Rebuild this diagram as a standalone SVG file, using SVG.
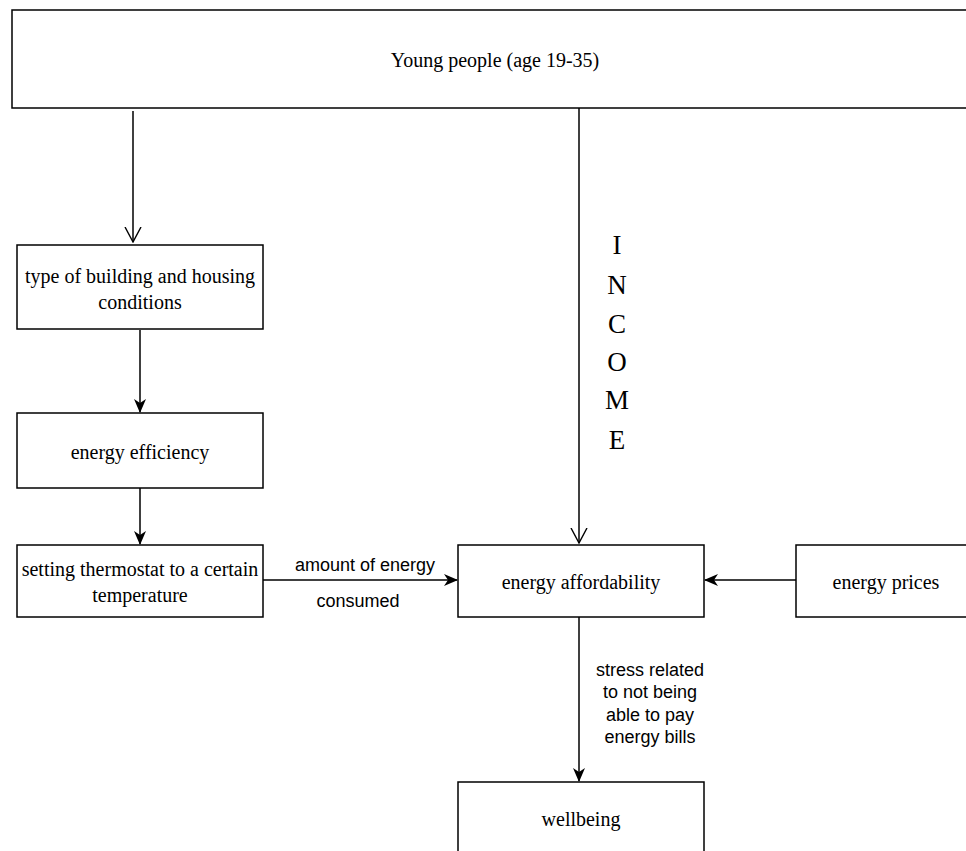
<svg xmlns="http://www.w3.org/2000/svg" width="966" height="851" viewBox="0 0 966 851">
<defs>
<marker id="open" viewBox="0 0 16 18" refX="15" refY="9" markerWidth="16" markerHeight="18" markerUnits="userSpaceOnUse" orient="auto">
<path d="M0 1 L15 9 L0 17" fill="none" stroke="#000" stroke-width="1.4"/>
</marker>
<marker id="filled" viewBox="0 0 14 12" refX="13" refY="6" markerWidth="14" markerHeight="12" markerUnits="userSpaceOnUse" orient="auto">
<path d="M0 0 L14 6 L0 12 L4 6 Z" fill="#000"/>
</marker>
</defs>
<style>
.box{fill:#fff;stroke:#000;stroke-width:1.5}
.t{font-family:"Liberation Serif","Times New Roman",serif;font-size:20px;fill:#000;text-anchor:middle}
.s{font-family:"Liberation Sans",Arial,sans-serif;font-size:18px;fill:#000;text-anchor:middle}
.inc{font-family:"Liberation Serif","Times New Roman",serif;font-size:27px;fill:#000;text-anchor:middle}
.c{fill:none;stroke:#000;stroke-width:1.5}
</style>
<rect width="966" height="851" fill="#fff"/>
<g id="connectors">
<line class="c" x1="133" y1="111" x2="133" y2="242" marker-end="url(#open)"/>
<line class="c" x1="579" y1="103" x2="579" y2="543" marker-end="url(#open)"/>
<line class="c" x1="140" y1="330" x2="140" y2="412" marker-end="url(#filled)"/>
<line class="c" x1="140" y1="488" x2="140" y2="544" marker-end="url(#filled)"/>
<line class="c" x1="263" y1="580" x2="457" y2="580" marker-end="url(#filled)"/>
<line class="c" x1="796" y1="580" x2="705" y2="580" marker-end="url(#filled)"/>
<line class="c" x1="579" y1="617" x2="579" y2="781" marker-end="url(#filled)"/>
<text class="s" x="365" y="571">amount of energy</text>
<text class="s" x="358" y="607">consumed</text>
<text class="s" x="650" y="676">stress related</text>
<text class="s" x="650" y="698">to not being</text>
<text class="s" x="650" y="721">able to pay</text>
<text class="s" x="650" y="743">energy bills</text>
<g id="income">
<text class="inc" x="617" y="254">I</text>
<text class="inc" x="617" y="294">N</text>
<text class="inc" x="617" y="333">C</text>
<text class="inc" x="617" y="371">O</text>
<text class="inc" x="617" y="409">M</text>
<text class="inc" x="617" y="449">E</text>
</g>
</g>
<g id="young">
<rect class="box" x="12" y="10" width="960" height="98"/>
<text class="t" x="495" y="67">Young people (age 19-35)</text>
</g>
<g id="building">
<rect class="box" x="17" y="245" width="246" height="84"/>
<text class="t" x="140" y="283">type of building and housing</text>
<text class="t" x="140" y="309">conditions</text>
</g>
<g id="efficiency">
<rect class="box" x="17" y="413" width="246" height="75"/>
<text class="t" x="140" y="459">energy efficiency</text>
</g>
<g id="thermostat">
<rect class="box" x="17" y="545" width="246" height="72"/>
<text class="t" x="140" y="576">setting thermostat to a certain</text>
<text class="t" x="140" y="602">temperature</text>
</g>
<g id="affordability">
<rect class="box" x="458" y="545" width="246" height="72"/>
<text class="t" x="581" y="589">energy affordability</text>
</g>
<g id="prices">
<rect class="box" x="796" y="545" width="180" height="72"/>
<text class="t" x="886" y="589">energy prices</text>
</g>
<g id="wellbeing">
<rect class="box" x="458" y="782" width="246" height="80"/>
<text class="t" x="581" y="826">wellbeing</text>
</g>
</svg>
